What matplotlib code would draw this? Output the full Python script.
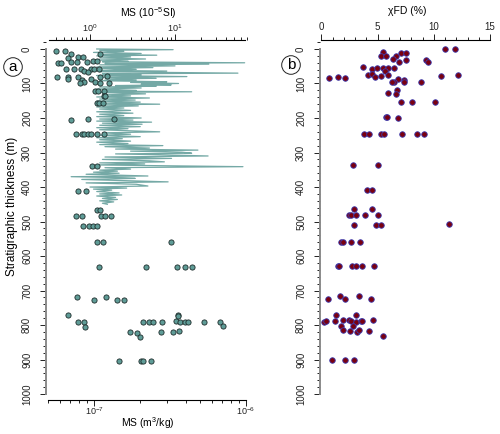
import numpy as np
import matplotlib
matplotlib.use("Agg")
import matplotlib.pyplot as plt
from matplotlib.ticker import LogLocator, MultipleLocator, NullFormatter

plt.rcParams['font.family'] = ['Liberation Sans', 'DejaVu Sans']
plt.rcParams['mathtext.default'] = 'regular'

# MS (10^-5 SI) high resolution record, depth in m
ms_si_depth = [0, 2, 4, 7, 10, 13, 16, 18, 20, 23, 26, 29, 32, 35, 37, 40, 42, 44, 46, 49,
               52, 54, 56, 59, 62, 64, 66, 70, 72, 75, 77, 80, 82, 85, 87, 90, 92, 95, 97, 100,
               102, 104, 106, 108, 110, 113, 116, 120, 122, 124, 126, 130, 133, 136, 139, 142, 145, 148, 151, 154,
               157, 160, 162, 165, 168, 171, 174, 178, 182, 186, 189, 193, 196, 200, 203, 206, 209, 212, 215, 218,
               221, 225, 228, 231, 234, 237, 240, 243, 247, 250, 254, 257, 260, 263, 267, 270, 274, 277, 280, 283,
               287, 290, 293, 296, 299, 302, 304, 307, 310, 313, 317, 320, 324, 327, 330, 333, 336, 341, 344, 348,
               351, 354, 357, 360, 363, 368, 370, 373, 375, 378, 382, 385, 388, 392, 397, 400, 403, 406, 409, 413,
               417, 420, 423, 426, 430, 433, 436, 440, 443, 447, 450]
ms_si_value = [1.2, 9.5, 1.3, 2.5, 1.1, 4.0, 1.4, 6.1, 1.2, 3.0, 1.3, 4.5, 1.2, 2.8, 1.4, 66, 1.5, 25, 1.3, 10,
               1.2, 5.5, 1.4, 3.5, 1.2, 8.0, 1.3, 55, 1.4, 4.0, 1.2, 13.8, 1.3, 6.0, 1.5, 3.5, 1.3, 8.0, 3.0, 11,
               4.0, 9.0, 2.0, 6.0, 1.3, 4.0, 1.2, 3.5, 1.4, 15.7, 1.3, 4.5, 1.4, 3.0, 1.2, 5.0, 1.3, 3.4, 1.2, 3.9,
               1.4, 6.6, 1.3, 3.7, 1.2, 2.5, 1.3, 3.0, 1.2, 3.2, 1.3, 2.5, 1.2, 4.0, 1.3, 3.2, 1.2, 5.3, 1.4, 4.1,
               1.3, 3.9, 1.2, 2.8, 1.3, 3.0, 6.6, 1.4, 3.0, 1.3, 3.9, 1.2, 2.4, 1.3, 3.0, 1.2, 2.8, 1.3, 7.2, 1.5,
               5.0, 2.0, 18.6, 3.0, 12, 15.7, 2.0, 8.0, 24.5, 1.5, 9.1, 1.4, 5.0, 7.5, 1.3, 4.4, 1.2, 63, 1.5, 3.0,
               1.3, 2.1, 1.1, 2.2, 0.9, 4.8, 0.6, 2.5, 3.4, 0.8, 3.0, 8.3, 0.9, 3.5, 4.8, 1.0, 2.7, 1.1, 1.8, 1.2,
               2.2, 1.3, 2.36, 1.2, 2.0, 1.4, 2.1, 1.3, 1.9, 1.4, 1.6]

# MS (m3/kg) samples
ms_mass_depth = [6, 5, 14, 15, 26, 23, 24, 42, 42, 38, 37, 38, 34, 34, 58, 58, 58, 65, 58, 58,
                 57, 66, 81, 80, 87, 81, 90, 95, 100, 86, 95, 80, 79, 98, 98, 123, 123, 123, 135, 136,
                 157, 157, 157, 206, 203, 203, 247, 247, 247, 247, 247, 247, 247, 338, 338, 412, 412, 467, 467, 483,
                 483, 483, 483, 483, 513, 513, 513, 513, 560, 560, 560, 631, 631, 631, 631, 631, 718, 728, 718, 728,
                 728, 771, 771, 792, 792, 806, 820, 822, 834, 792, 792, 792, 790, 820, 820, 818, 789, 774, 790, 790,
                 790, 790, 790, 803, 904, 904, 904, 904]
ms_mass_value = [5.6e-8, 6.44e-8, 1.1e-7, 7.06e-8, 6.77e-8, 7.8e-8, 8.5e-8, 5.8e-8, 6.07e-8, 7.06e-8,
                 7.7e-8, 9.0e-8, 9.9e-8, 1.04e-7, 6.57e-8, 7.4e-8, 8.2e-8, 8.6e-8, 9.5e-8, 1.0e-7,
                 1.08e-7, 9.2e-8, 5.7e-8, 6.77e-8, 6.77e-8, 7.8e-8, 8.3e-8, 8.6e-8, 8.1e-8, 9.5e-8,
                 1.015e-7, 1.1e-7, 1.21e-7, 1.25e-7, 1.1e-7, 1.015e-7, 1.06e-7, 1.17e-7, 1.16e-7, 1.18e-7,
                 1.04e-7, 1.08e-7, 1.15e-7, 7.1e-8, 9.2e-8, 1.36e-7, 7.6e-8, 8.3e-8, 8.6e-8, 9.1e-8,
                 9.56e-8, 1.05e-7, 1.17e-7, 9.65e-8, 1.04e-7, 7.9e-8, 8.9e-8, 1.04e-7, 1.095e-7, 7.6e-8,
                 8.3e-8, 1.12e-7, 1.19e-7, 1.29e-7, 8.5e-8, 9.3e-8, 9.8e-8, 1.04e-7, 1.05e-7, 1.14e-7,
                 3.21e-7, 1.08e-7, 2.21e-7, 3.53e-7, 3.97e-7, 4.42e-7, 7.7e-8, 1.0e-7, 1.2e-7, 1.42e-7,
                 1.57e-7, 6.77e-8, 3.55e-7, 7.9e-8, 8.6e-8, 8.7e-8, 1.72e-7, 1.92e-7, 2.0e-7, 2.11e-7,
                 2.29e-7, 2.44e-7, 2.79e-7, 2.77e-7, 3.29e-7, 3.64e-7, 3.45e-7, 3.57e-7, 3.68e-7, 3.97e-7,
                 4.17e-7, 5.3e-7, 6.74e-7, 7.05e-7, 1.46e-7, 2.03e-7, 2.09e-7, 2.37e-7]

# xFD (%) samples
xfd_depth = [1, 1, 10, 20, 19, 13, 13, 21, 30, 38, 33, 32, 38, 53, 59, 54, 54, 54, 63, 56,
             74, 73, 81, 78, 74, 83, 82, 83, 88, 95, 97, 90, 96, 97, 77, 74, 119, 129, 130, 153,
             153, 153, 198, 198, 201, 245, 245, 245, 245, 245, 245, 245, 335, 335, 409, 409, 464, 463, 480, 480,
             480, 480, 480, 510, 510, 510, 508, 558, 558, 558, 558, 628, 628, 628, 628, 628, 628, 724, 715, 724,
             716, 724, 791, 787, 771, 787, 785, 804, 815, 785, 789, 771, 790, 802, 817, 819, 815, 789, 789, 817,
             785, 832, 902, 902, 902]
xfd_value = [10.97, 11.9, 5.43, 5.28, 5.75, 7.1, 7.56, 6.67, 6.4, 6.88, 7.5, 9.27, 9.48, 3.68, 4.54, 4.9, 5.43, 5.93, 5.64, 6.43,
             4.15, 4.54, 4.75, 5.28, 5.9, 0.69, 1.46, 2.08, 6.85, 6.46, 6.3, 7.35, 7.38, 8.83, 10.6, 12.17, 6.76, 5.96, 6.64, 7.05,
             8.03, 10.13, 5.75, 5.85, 6.85, 3.8, 4.24, 5.28, 5.55, 7.14, 8.47, 9.1, 2.82, 5.07, 4.04, 4.48, 2.91, 4.54, 2.47, 2.62,
             3.09, 3.83, 5.01, 2.91, 4.81, 5.34, 11.34, 1.73, 1.88, 2.62, 3.39, 1.44, 1.58, 2.73, 3.09, 3.59, 4.63, 0.6, 1.67, 2.09,
             3.3, 4.45, 0.22, 0.4, 1.31, 1.22, 1.88, 1.7, 1.9, 2.47, 2.65, 3.06, 3.09, 2.82, 2.5, 3.12, 3.33, 3.48, 3.57, 4.21,
             4.57, 5.43, 0.96, 2.06, 2.91]

W, H = 500, 434
fig = plt.figure(figsize=(W / 100, H / 100), dpi=100)


def box(x0, x1, y0, y1):
    return [x0 / W, 1 - y1 / H, (x1 - x0) / W, (y1 - y0) / H]


ylim = (1017, -26)
tick_kw = dict(labelsize=7, width=0.7, colors='#222222')


def style_y(ax):
    ax.set_ylim(*ylim)
    ax.yaxis.set_major_locator(MultipleLocator(100))
    ax.yaxis.set_minor_locator(MultipleLocator(20))
    ax.tick_params(axis='y', which='major', length=4, pad=6, **tick_kw)
    ax.tick_params(axis='y', which='minor', length=2.2, width=0.7, colors='#222222')
    for lab in ax.get_yticklabels():
        lab.set_rotation(90)
        lab.set_va('center')
    ax.spines['left'].set_bounds(0, 1000)
    ax.spines['left'].set_color('#8a8a8a')
    ax.spines['left'].set_linewidth(1.4)
    ax.spines['right'].set_visible(False)


def log_ticks(axis):
    axis.set_major_locator(LogLocator(base=10, numticks=10))
    axis.set_minor_locator(LogLocator(base=10, subs=np.arange(2, 10), numticks=10))
    axis.set_minor_formatter(NullFormatter())


# ---- panel a ----
ax = fig.add_axes(box(46, 249, 40, 400))
ax.set_xscale('log')
ax.set_xlim(10 ** ((46 - 90) / 85), 10 ** ((249 - 90) / 85))
ax.plot(ms_si_value, ms_si_depth, color='#3a8580', lw=0.9, alpha=0.7, zorder=1)
style_y(ax)

ax2 = ax.twiny()
ax2.set_xscale('log')
ax2.set_xlim(10 ** (-7 + (46 - 94) / 152), 10 ** (-7 + (249 - 94) / 152))
ax2.scatter(ms_mass_value, ms_mass_depth, s=14, c='#5f9c97', edgecolors='#1c2b2a',
            linewidths=0.6, zorder=3)
ax2.set_ylim(*ylim)

# top axis: MS (SI) line; bottom axis: MS (mass) points
ax.xaxis.set_ticks_position('top')
ax.xaxis.set_label_position('top')
ax2.xaxis.set_ticks_position('bottom')
ax2.xaxis.set_label_position('bottom')
for a in (ax, ax2):
    log_ticks(a.xaxis)
    a.tick_params(axis='x', which='major', length=4, pad=0, **tick_kw)
    a.tick_params(axis='x', which='minor', length=2.5, width=0.7, colors='#222222')
ax.tick_params(axis='x', labeltop=True, labelbottom=False, labelsize=6.5)
ax2.tick_params(axis='x', labeltop=False, labelbottom=True, labelsize=6.5)

ax.spines['bottom'].set_visible(False)
ax.spines['top'].set_bounds(0.33, 66)
ax.spines['top'].set_linewidth(0.8)
for s in ['top', 'left', 'right']:
    ax2.spines[s].set_visible(False)
ax2.spines['bottom'].set_bounds(5e-8, 1e-6)
ax2.spines['bottom'].set_linewidth(0.8)

fig.text(148 / W, 1 - 13 / H, 'MS (10$^{-5}$SI)', ha='center', va='center', fontsize=7.5)
fig.text(148 / W, 1 - 423 / H, 'MS (m$^{3}$/kg)', ha='center', va='center', fontsize=7.5)
fig.text(12 / W, 1 - 206 / H, 'Stratigraphic thickness (m)', ha='center', va='center',
         rotation=90, fontsize=8.5)

# ---- panel b ----
bx = fig.add_axes(box(320, 492, 40, 400))
bx.set_xlim(-0.13, 15.17)
bx.scatter(xfd_value, xfd_depth, s=16, c='#7a0010', edgecolors='#3c3cb0', linewidths=0.6, zorder=3)
bx.xaxis.tick_top()
bx.xaxis.set_major_locator(MultipleLocator(5))
bx.xaxis.set_minor_locator(MultipleLocator(1))
bx.tick_params(axis='x', which='major', length=4, pad=1.5, **tick_kw)
bx.tick_params(axis='x', which='minor', length=2.5, width=0.7, colors='#222222')
bx.spines['bottom'].set_visible(False)
bx.spines['top'].set_bounds(0, 15)
bx.spines['top'].set_linewidth(0.8)
style_y(bx)
fig.text(407 / W, 1 - 11 / H, 'χFD (%)', ha='center', va='center', fontsize=7.5)

for lab, x, y in [('a', 13, 67), ('b', 291, 65)]:
    fig.text(x / W, 1 - y / H, lab, ha='center', va='center', fontsize=11,
             bbox=dict(boxstyle='circle,pad=0.15', fc='white', ec='#222222', lw=0.7))

fig.savefig('out.png', dpi=100)
